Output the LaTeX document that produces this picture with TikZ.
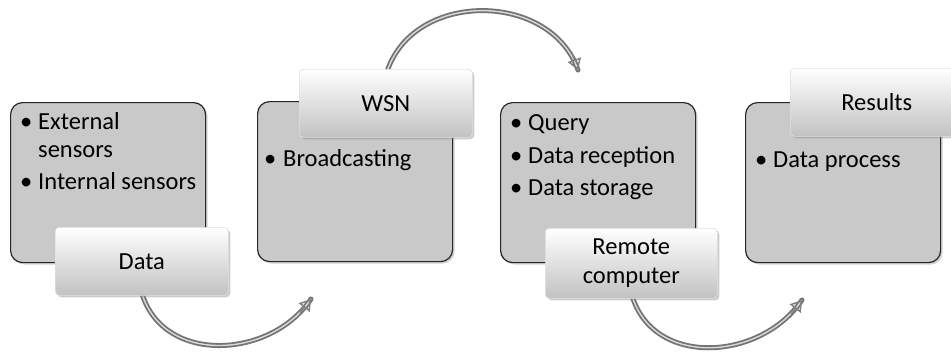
\documentclass[tikz,border=0pt]{standalone}
\usepackage{fontspec}
\setmainfont{Carlito}
\usetikzlibrary{shadows,arrows.meta}
\tikzset{
  panel/.style={draw=black!85, line width=1.2pt, fill=black!21, rounded corners=12pt,
    anchor=north west, inner sep=0pt, minimum width=195pt, minimum height=160pt,
    drop shadow={opacity=0.35, shadow xshift=2pt, shadow yshift=-2pt}},
  tag/.style={draw=white!88!black, line width=0.6pt, top color=white, bottom color=black!24,
    rounded corners=4pt, anchor=north west, inner sep=0pt, minimum width=173pt,
    minimum height=68pt, align=center, font=\fontsize{24.5}{29}\selectfont,
    drop shadow={opacity=0.4, shadow xshift=2pt, shadow yshift=-2pt}},
  txt/.style={anchor=base west, inner sep=0pt, font=\fontsize{24.5}{29}\selectfont},
  flowarc/.style={draw=black!55, line width=5pt, line cap=round},
  flowarcin/.style={draw=black!15, line width=1.4pt},
  flowtip/.style={-{Triangle[open, length=11pt, width=14pt, line width=1.5pt]}, draw=black!50, line width=1.2pt}
}
\begin{document}
\begin{tikzpicture}[x=1pt,y=-1pt]
\useasboundingbox (0,0) rectangle (951,354);
% panels
\node[panel] (p1) at (10,102) {};
\node[panel] (p2) at (257,101) {};
\node[panel] (p3) at (500,102) {};
\node[panel] (p4) at (745,102) {};
% bullet texts
\node[txt] (b1) at (20,129) {•};
\node[txt] (t1a) at (38,129) {External};
\node[txt] (t1b) at (38,157) {sensors};
\node[txt] (b2) at (20,189) {•};
\node[txt] (t1c) at (38,189) {Internal sensors};
\node[txt] (b3) at (264,166) {•};
\node[txt] (t2a) at (283,166) {Broadcasting};
\node[txt] (b4) at (510,130) {•};
\node[txt] (t3a) at (528,130) {Query};
\node[txt] (b5) at (510,163) {•};
\node[txt] (t3b) at (528,163) {Data reception};
\node[txt] (b6) at (510,195) {•};
\node[txt] (t3c) at (528,195) {Data storage};
\node[txt] (b7) at (755,167) {•};
\node[txt] (t4a) at (773,167) {Data process};
% connectors (drawn before tags so they emerge from behind)
\coordinate (e1) at (311,299);
\coordinate (e2) at (578,70);
\coordinate (e3) at (802,300);
\coordinate (s1) at (141,290);
\coordinate (s2) at (386,75);
\coordinate (s3) at (631,292);
\draw[flowarc] (s1) .. controls (160,365) and (270,360) .. (e1);
\draw[flowarcin] (s1) .. controls (160,365) and (270,360) .. (e1);
\draw[flowtip] (300,313) -- (e1);
\draw[flowarc] (s2) .. controls (410,-10) and (550,-10) .. (e2);
\draw[flowarcin] (s2) .. controls (410,-10) and (550,-10) .. (e2);
\draw[flowtip] (573,56) -- (e2);
\draw[flowarc] (s3) .. controls (650,368) and (760,362) .. (e3);
\draw[flowarcin] (s3) .. controls (650,368) and (760,362) .. (e3);
\draw[flowtip] (791,314) -- (e3);
% tags
\node[tag] (data) at (55,227) {Data};
\node[tag] (wsn) at (299,69) {WSN};
\node[tag, minimum height=70pt, minimum width=172pt] (remote) at (545,228) {Remote\\computer};
\node[tag] (results) at (790,68) {Results};
\end{tikzpicture}
\end{document}
